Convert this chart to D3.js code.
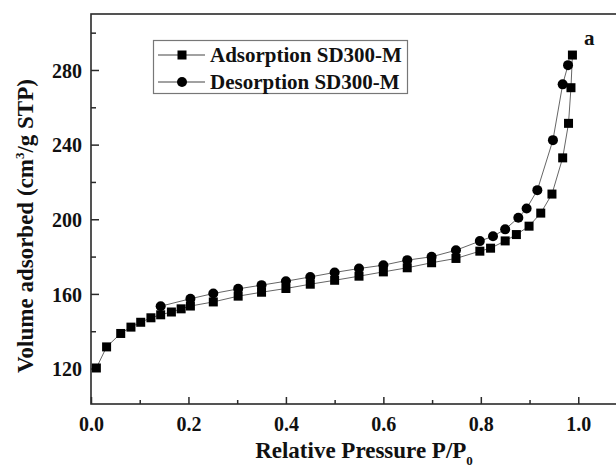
<!DOCTYPE html>
<html>
<head>
<meta charset="utf-8">
<script src="https://cdn.jsdelivr.net/npm/d3@7"></script>
<style>
  body { margin: 0; background: #fff; }
  svg text { font-family: "Liberation Serif", "Times New Roman", serif; font-weight: bold; fill: #111; }
</style>
</head>
<body>
<svg id="chart" width="616" height="467"></svg>
<script>
// ==========================
// DATA
// ==========================
const adsP = [0.011, 0.032, 0.061, 0.082, 0.102, 0.123, 0.143, 0.165, 0.185, 0.204,
              0.251, 0.302, 0.350, 0.400, 0.450, 0.500, 0.550, 0.600, 0.649, 0.699,
              0.749, 0.798, 0.820, 0.850, 0.873, 0.899, 0.923, 0.946, 0.968, 0.980,
              0.985, 0.988];
const adsV = [120.3, 131.6, 138.8, 142.2, 144.8, 147.2, 148.8, 150.3, 152.0, 153.5,
              155.7, 158.8, 160.9, 162.9, 165.2, 167.3, 169.5, 171.8, 174.0, 176.7,
              179.0, 182.9, 184.5, 188.4, 191.8, 196.3, 203.3, 213.5, 232.9, 251.4,
              270.5, 288.0];
const desP = [0.979, 0.968, 0.948, 0.916, 0.894, 0.877, 0.850, 0.825, 0.798, 0.749,
              0.699, 0.649, 0.600, 0.550, 0.500, 0.450, 0.400, 0.350, 0.302, 0.251,
              0.204, 0.143];
const desV = [282.6, 272.3, 242.4, 215.6, 205.8, 200.8, 194.6, 190.9, 188.3, 183.4,
              179.9, 178.1, 175.4, 173.6, 171.5, 169.1, 166.8, 164.7, 162.7, 160.2,
              157.4, 153.4];
const xMajor = [0, 0.2, 0.4, 0.6, 0.8, 1.0];
const xMinor = [0.1, 0.3, 0.5, 0.7, 0.9];
const yMajor = [120, 160, 200, 240, 280];
const yMinor = [140, 180, 220, 260, 300];
const seriesNames = ["Adsorption SD300-M", "Desorption SD300-M"];

// ==========================
// LAYOUT
// ==========================
const svg = d3.select("#chart");
const plotL = 91, plotR = 627, plotT = 14, plotB = 404;

const x = d3.scaleLinear().domain([0, 1.1]).range([plotL, plotR]);
const y = d3.scaleLinear().domain([101, 310]).range([plotB, plotT]);

// frame
svg.append("rect")
    .attr("x", plotL).attr("y", plotT)
    .attr("width", plotR - plotL).attr("height", plotB - plotT)
    .attr("fill", "none")
    .attr("stroke", "#2a2a2a")
    .attr("stroke-width", 1.6);

// x axis (ticks inward)
const gx = svg.append("g").attr("transform", `translate(0,${plotB})`);
gx.call(d3.axisBottom(x).tickValues(xMajor).tickSize(-7).tickFormat(d3.format(".1f")));
gx.append("g").call(d3.axisBottom(x).tickValues(xMinor).tickSize(-4).tickFormat(""));
gx.selectAll(".domain").remove();
gx.selectAll("line").attr("stroke", "#2a2a2a").attr("stroke-width", 1.5);
gx.selectAll("text").attr("font-size", 20).attr("y", 13).attr("dy", "0.71em")
    .style("font-family", "Liberation Serif").style("font-weight", "bold").attr("fill", "#111");

// y axis (ticks inward)
const gy = svg.append("g").attr("transform", `translate(${plotL},0)`);
gy.call(d3.axisLeft(y).tickValues(yMajor).tickSize(-8));
gy.append("g").call(d3.axisLeft(y).tickValues(yMinor).tickSize(-5).tickFormat(""));
gy.selectAll(".domain").remove();
gy.selectAll("line").attr("stroke", "#2a2a2a").attr("stroke-width", 1.5);
gy.selectAll("text").attr("font-size", 20).attr("x", -9).attr("dy", "0.36em")
    .style("font-family", "Liberation Serif").style("font-weight", "bold").attr("fill", "#111");

// axis titles
const xt = svg.append("text")
    .attr("x", 364).attr("y", 458)
    .attr("text-anchor", "middle")
    .attr("font-size", 23);
xt.append("tspan").text("Relative Pressure P/P");
xt.append("tspan").attr("font-size", 13).attr("dy", 7).text("0");

const yt = svg.append("text")
    .attr("transform", "translate(33,226) rotate(-90)")
    .attr("text-anchor", "middle")
    .attr("font-size", 23);
yt.append("tspan").text("Volume adsorbed (cm");
yt.append("tspan").attr("font-size", 13).attr("dy", -9).text("3");
yt.append("tspan").attr("dy", 9).text("/g STP)");

// ==========================
// SERIES
// ==========================
const line = d3.line().x(d => x(d[0])).y(d => y(d[1]));
const ads = d3.zip(adsP, adsV);
const des = d3.zip(desP, desV);

svg.append("path").datum(ads).attr("d", line)
    .attr("fill", "none").attr("stroke", "#666").attr("stroke-width", 1);
svg.append("path").datum(des).attr("d", line)
    .attr("fill", "none").attr("stroke", "#666").attr("stroke-width", 1);

const sq = 9;
svg.append("g").selectAll("rect")
    .data(ads).enter().append("rect")
    .attr("x", d => x(d[0]) - sq / 2)
    .attr("y", d => y(d[1]) - sq / 2)
    .attr("width", sq).attr("height", sq)
    .attr("fill", "#000");

svg.append("g").selectAll("circle")
    .data(des).enter().append("circle")
    .attr("cx", d => x(d[0]))
    .attr("cy", d => y(d[1]))
    .attr("r", 5)
    .attr("fill", "#000");

// panel label
svg.append("text").attr("x", 584).attr("y", 45).attr("font-size", 21).text("a");

// ==========================
// LEGEND
// ==========================
const legend = svg.append("g");
legend.append("rect")
    .attr("x", 153.5).attr("y", 40.5).attr("width", 254).attr("height", 53)
    .attr("fill", "#fff").attr("stroke", "#777").attr("stroke-width", 1.2);

seriesNames.forEach((name, i) => {
    const cy = 55 + i * 27;
    legend.append("line")
        .attr("x1", 158).attr("x2", 205).attr("y1", cy).attr("y2", cy)
        .attr("stroke", "#444").attr("stroke-width", 1.2);
    if (i === 0) {
        legend.append("rect").attr("x", 182 - 4.5).attr("y", cy - 4.5)
            .attr("width", 9).attr("height", 9).attr("fill", "#000");
    } else {
        legend.append("circle").attr("cx", 182).attr("cy", cy).attr("r", 5).attr("fill", "#000");
    }
    legend.append("text")
        .attr("x", 210).attr("y", cy).attr("dy", "0.35em")
        .attr("font-size", 21)
        .text(name);
});
</script>
</body>
</html>
